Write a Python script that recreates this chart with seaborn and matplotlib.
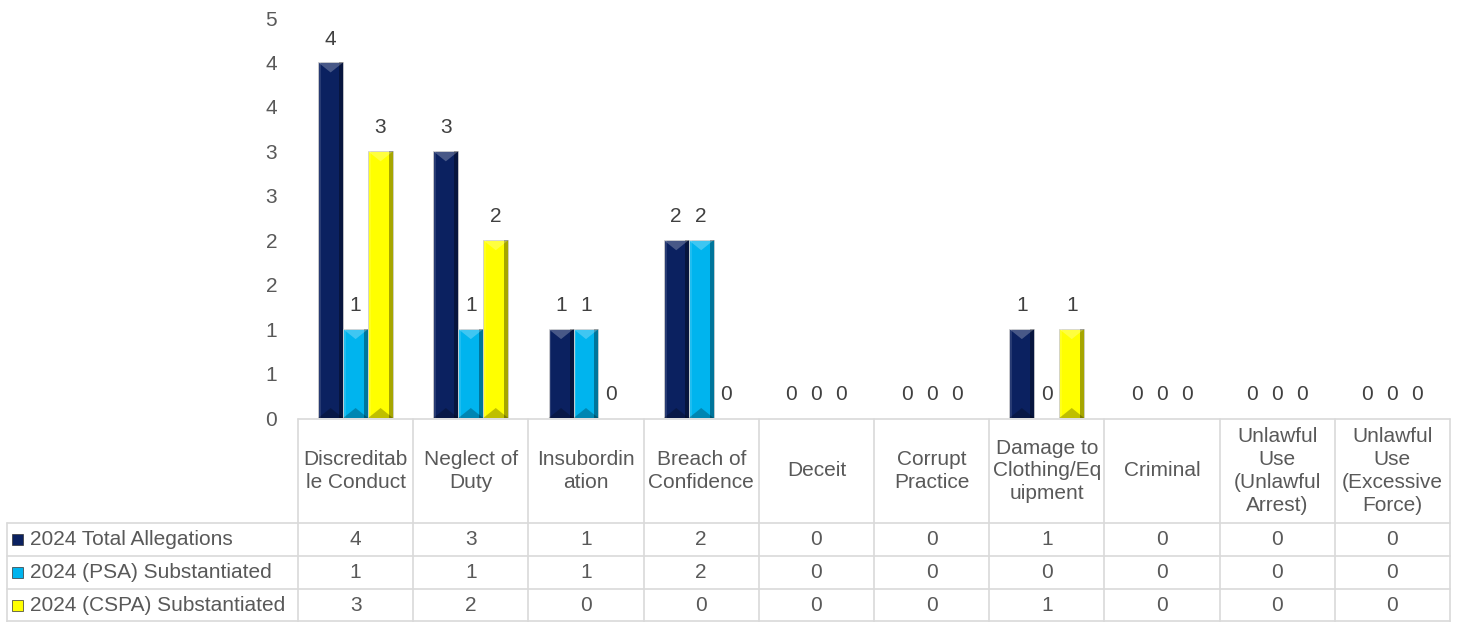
import numpy as np
import pandas as pd
import matplotlib
matplotlib.use('Agg')
import matplotlib.pyplot as plt
import matplotlib.transforms as mtransforms
from matplotlib.lines import Line2D
from matplotlib.patches import Rectangle, Polygon
from matplotlib.ticker import FuncFormatter
import seaborn as sns

# data
categories = ['Discreditable Conduct', 'Neglect of Duty', 'Insubordination',
              'Breach of Confidence', 'Deceit', 'Corrupt Practice',
              'Damage to Clothing/Equipment', 'Criminal',
              'Unlawful Use (Unlawful Arrest)', 'Unlawful Use (Excessive Force)']
header_labels = ['Discreditab\nle Conduct', 'Neglect of\nDuty', 'Insubordin\nation',
                 'Breach of\nConfidence', 'Deceit', 'Corrupt\nPractice',
                 'Damage to\nClothing/Eq\nuipment', 'Criminal',
                 'Unlawful\nUse\n(Unlawful\nArrest)', 'Unlawful\nUse\n(Excessive\nForce)']
series = ['2024 Total Allegations', '2024 (PSA) Substantiated', '2024 (CSPA) Substantiated']
total_allegations = [4, 3, 1, 2, 0, 0, 1, 0, 0, 0]
psa_substantiated = [1, 1, 1, 2, 0, 0, 0, 0, 0, 0]
cspa_substantiated = [3, 2, 0, 0, 0, 0, 1, 0, 0, 0]
colors = ['#0B2160', '#00B4EE', '#FFFF00']

values = [total_allegations, psa_substantiated, cspa_substantiated]
df = pd.DataFrame({
    'category': np.tile(categories, len(series)),
    'series': np.repeat(series, len(categories)),
    'value': np.concatenate(values),
})

sns.set_theme(style='white')
plt.rcParams['font.family'] = ['Liberation Sans', 'DejaVu Sans']

W, H = 1462, 622
fig = plt.figure(figsize=(W / 100, H / 100), dpi=100)
ax = fig.add_axes([298 / W, 1 - 418 / H, 1152 / W, 400 / H])

def yf(px):
    return 1 - px / H

sns.barplot(data=df, x='category', y='value', hue='series', order=categories,
            hue_order=series, palette=colors, width=0.65, saturation=1,
            edgecolor='#C8C8C8', linewidth=0.6, legend=False, ax=ax)

ax.set_xlim(-0.5, len(categories) - 0.5)
ax.set_ylim(0, 4.5)
ax.set_yticks(np.arange(0, 4.51, 0.5))
ax.yaxis.set_major_formatter(FuncFormatter(lambda v, p: str(int(np.floor(v + 0.5)))))
ax.tick_params(axis='y', length=0, pad=15, labelsize=15, labelcolor='#595959')
ax.set_xticks([])
ax.set_xlabel('')
ax.set_ylabel('')
for s in ax.spines.values():
    s.set_visible(False)

# bevel look on the bars
ppu_x = 1152 / len(categories)
ppu_y = 400 / 4.5
for cont in ax.containers:
    for bar in cont:
        h = bar.get_height()
        if h <= 0:
            continue
        x0, y0 = bar.get_xy()
        w = bar.get_width()
        x1, top = x0 + w, y0 + h
        xc = x0 + w / 2
        side = 4 / ppu_x
        tri = 10 / ppu_y
        ax.add_patch(Polygon([(x1 - side, y0), (x1, y0), (x1, top), (x1 - side, top)],
                             closed=True, color='black', alpha=0.35, lw=0))
        ax.add_patch(Polygon([(x0, y0), (x0 + side * 0.7, y0), (x0 + side * 0.7, top), (x0, top)],
                             closed=True, color='white', alpha=0.12, lw=0))
        ax.add_patch(Polygon([(x0, top), (x1, top), (xc, top - tri)],
                             closed=True, color='white', alpha=0.25, lw=0))
        ax.add_patch(Polygon([(x0, y0), (x1, y0), (xc, y0 + tri)],
                             closed=True, color='black', alpha=0.25, lw=0))

for cont, vals in zip(ax.containers, values):
    ax.bar_label(cont, labels=[str(v) for v in vals], padding=10,
                 fontsize=15, color='#404040')

# data table under the chart
grid = '#D9D9D9'
trans = mtransforms.blended_transform_factory(ax.transData, fig.transFigure)
row_tops = [523, 556, 589]
row_h = 33
for i in range(len(categories) + 1):
    fig.add_artist(Line2D([i - 0.5, i - 0.5], [yf(419), yf(622)], transform=trans,
                          color=grid, lw=1.2))
fig.add_artist(Line2D([-0.5, len(categories) - 0.5], [yf(419), yf(419)], transform=trans,
                      color=grid, lw=1.2))
for yp in row_tops + [row_tops[-1] + row_h - 1]:
    fig.add_artist(Line2D([7 / W, 1450 / W], [yf(yp), yf(yp)], transform=fig.transFigure,
                          color=grid, lw=1.2))
fig.add_artist(Line2D([7 / W, 7 / W], [yf(row_tops[0]), yf(622)], transform=fig.transFigure,
                      color=grid, lw=1.2))

for i, lab in enumerate(header_labels):
    fig.text(i, yf(471), lab, transform=trans, ha='center', va='center',
             multialignment='center', fontsize=15, color='#595959', linespacing=1.25)

for j, (name, vals, col) in enumerate(zip(series, values, colors)):
    yc = row_tops[j] + row_h / 2
    fig.add_artist(Rectangle((12 / W, yf(yc + 5)), 11 / W, 11 / H, transform=fig.transFigure,
                             facecolor=col, edgecolor='#333333', lw=0.5))
    fig.text(30 / W, yf(yc), name, ha='left', va='center', fontsize=15, color='#595959')
    for i, v in enumerate(vals):
        fig.text(i, yf(yc), str(v), transform=trans, ha='center', va='center',
                 fontsize=15, color='#595959')

fig.savefig('out.png', dpi=100)
